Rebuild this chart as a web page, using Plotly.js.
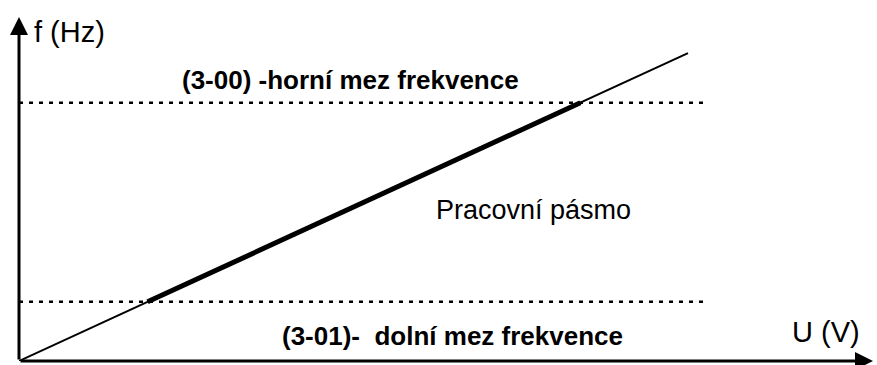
<!DOCTYPE html>
<html>
<head>
<meta charset="utf-8">
<script src="https://cdn.plot.ly/plotly-3.0.1.min.js"></script>
<style>
  html, body { margin: 0; padding: 0; background: #fff; }
  #plot { width: 877px; height: 365px; }
</style>
</head>
<body>
<div id="plot"></div>
<script>
// charakteristika f = k * U (schéma, poměrné jednotky)
const uLine = [0, 89.5];
const fLine = [0, 89.5];

// pracovní pásmo mezi dolní a horní mezí
const fLimits = [75.1, 17.2];          // horní, dolní mez
const uLimitSpan = [0, 92];
const uBand = [17.2, 75.1];
const fBand = [17.2, 75.1];

const limitLabels = ['(3-00) -horní mez frekvence', '(3-01)-\u00a0\u00a0dolní mez frekvence'];
const bandLabel = 'Pracovní pásmo';
const axisLabels = ['U (V)', 'f (Hz)'];

const uMax = 114.25;
const fMax = 100;

const font = 'Liberation Sans, Arial, sans-serif';

function initPlot() {
    const traces = [];

    // tečkované meze
    fLimits.forEach(function(f) {
        traces.push({
            type: 'scatter',
            mode: 'lines',
            x: uLimitSpan,
            y: [f, f],
            line: { color: '#000', width: 2.5, dash: '4px,6px' },
            cliponaxis: false,
            hoverinfo: 'skip'
        });
    });

    // tenká přímka
    traces.push({
        type: 'scatter',
        mode: 'lines',
        x: uLine,
        y: fLine,
        line: { color: '#000', width: 2 },
        cliponaxis: false,
        hoverinfo: 'skip'
    });

    // zesílená část v pracovním pásmu
    traces.push({
        type: 'scatter',
        mode: 'lines',
        x: uBand,
        y: fBand,
        line: { color: '#000', width: 5 },
        cliponaxis: false,
        hoverinfo: 'skip'
    });

    const annotations = [
        // osy se šipkami
        {
            x: uMax, y: 0, ax: 0, ay: 0, xref: 'x', yref: 'y', axref: 'x', ayref: 'y',
            text: '', showarrow: true, arrowhead: 2, arrowsize: 1.2, arrowwidth: 3, arrowcolor: '#000'
        },
        {
            x: 0, y: fMax, ax: 0, ay: 0, xref: 'x', yref: 'y', axref: 'x', ayref: 'y',
            text: '', showarrow: true, arrowhead: 2, arrowsize: 1.2, arrowwidth: 3, arrowcolor: '#000'
        },
        {
            x: 1.8, y: 95.6, xref: 'x', yref: 'y', xanchor: 'left', yanchor: 'middle',
            text: axisLabels[1], showarrow: false, font: { family: font, size: 29, color: '#000' }
        },
        {
            x: 108.0, y: 8.4, xref: 'x', yref: 'y', xanchor: 'center', yanchor: 'middle',
            text: axisLabels[0], showarrow: false, font: { family: font, size: 29, color: '#000' }
        },
        {
            x: 44.3, y: 81.7, xref: 'x', yref: 'y', xanchor: 'center', yanchor: 'middle',
            text: '<b>' + limitLabels[0] + '</b>', showarrow: false,
            font: { family: font, size: 26, color: '#000' }
        },
        {
            x: 58.0, y: 7.3, xref: 'x', yref: 'y', xanchor: 'center', yanchor: 'middle',
            text: '<b>' + limitLabels[1] + '</b>', showarrow: false,
            font: { family: font, size: 26, color: '#000' }
        },
        {
            x: 68.8, y: 43.9, xref: 'x', yref: 'y', xanchor: 'center', yanchor: 'middle',
            text: bandLabel, showarrow: false, font: { family: font, size: 27, color: '#000' }
        }
    ];

    const layout = {
        width: 877,
        height: 365,
        margin: { l: 19, r: 4, t: 17, b: 4 },
        paper_bgcolor: '#fff',
        plot_bgcolor: '#fff',
        showlegend: false,
        xaxis: { range: [0, uMax], visible: false, fixedrange: true },
        yaxis: { range: [0, fMax], visible: false, fixedrange: true },
        annotations: annotations
    };

    Plotly.newPlot('plot', traces, layout, { staticPlot: true, displayModeBar: false });
}

document.addEventListener('DOMContentLoaded', initPlot);
</script>
</body>
</html>
